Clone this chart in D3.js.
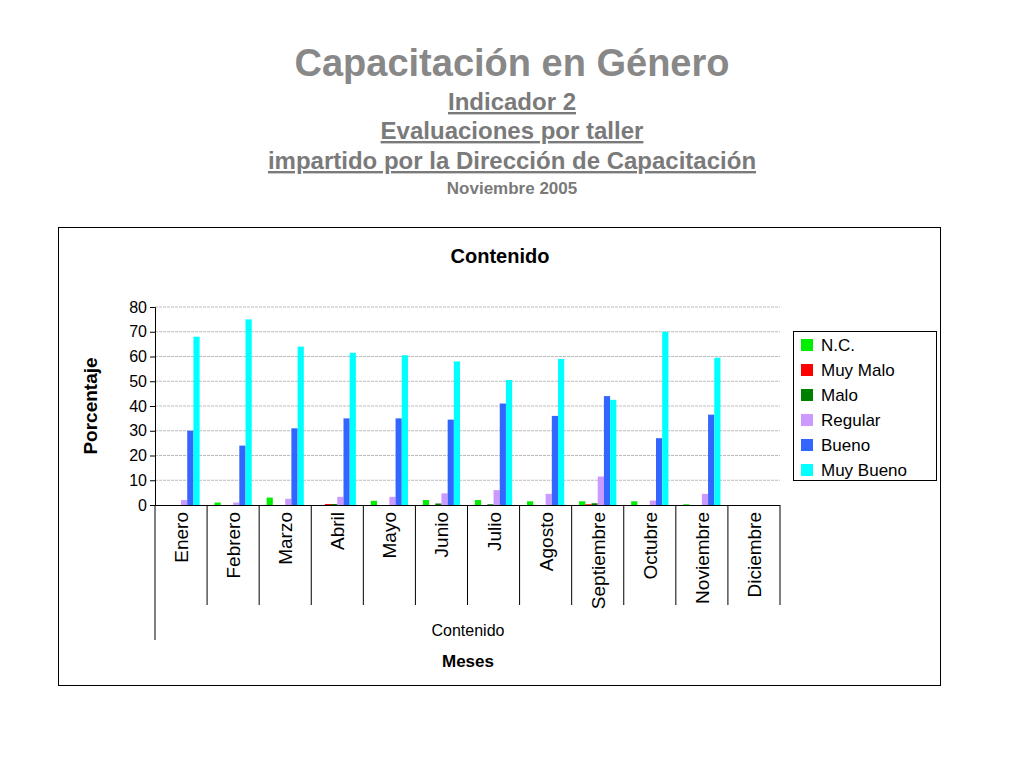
<!DOCTYPE html><html><head><meta charset="utf-8"><script src="https://cdn.jsdelivr.net/npm/d3@7"></script>
<style>body{margin:0;background:#fff}text{font-family:"Liberation Sans",Arial,sans-serif}</style></head><body>
<svg width="1024" height="768"></svg>
<script>
const months=["Enero","Febrero","Marzo","Abril","Mayo","Junio","Julio","Agosto","Septiembre","Octubre","Noviembre","Diciembre"];
const seriesNames=["N.C.","Muy Malo","Malo","Regular","Bueno","Muy Bueno"];
const colors=["#00ee00","#ff0000","#008000","#cc99ff","#3366ff","#00ffff"];
const nc=[0,1,3,0,1.7,2,2,1.5,1.5,1.5,0.3,0];
const muyMalo=[0,0,0,0.4,0,0,0,0,0.3,0,0,0];
const malo=[0,0,0,0.4,0,0.6,0.3,0,0.7,0,0,0];
const regular=[2,1,2.5,3.3,3.3,4.7,6,4.5,11.5,1.8,4.5,0];
const bueno=[30,24,31,35,35,34.5,41,36,44,27,36.5,0];
const muyBueno=[68,75,64,61.5,60.5,58,50.5,59,42.5,70,59.5,0];
const yTicks=[0,10,20,30,40,50,60,70,80];
const data=[nc,muyMalo,malo,regular,bueno,muyBueno];
const svg=d3.select("svg");
const t=svg.append("g").attr("text-anchor","middle").attr("font-weight","bold");
t.append("text").attr("x",512).attr("y",76).attr("font-size",38).attr("fill","#888").text("Capacitación en Género");
[["Indicador 2",110],["Evaluaciones por taller",139],["impartido por la Dirección de Capacitación",169]].forEach(([s,y])=>{
 t.append("text").attr("x",512).attr("y",y).attr("font-size",24).attr("fill","#7a7a7a").attr("text-decoration","underline").text(s);});
t.append("text").attr("x",512).attr("y",194).attr("font-size",17).attr("fill","#7a7a7a").text("Noviembre 2005");
svg.append("rect").attr("x",58.5).attr("y",227.5).attr("width",882).attr("height",458).attr("fill","#fff").attr("stroke","#000");
svg.append("text").attr("x",500).attr("y",263).attr("text-anchor","middle").attr("font-size",20).attr("font-weight","bold").text("Contenido");
const L=155,R=780;
const x=d3.scaleBand().domain(months).range([L,R]);
const xs=d3.scaleBand().domain(d3.range(6)).range([0,x.bandwidth()]).paddingInner(0).paddingOuter(1.2);
const y=d3.scaleLinear().domain([0,80]).range([505,307]);
svg.append("g").selectAll("line").data(yTicks.slice(1)).join("line").attr("x1",L).attr("x2",R).attr("y1",d=>y(d)).attr("y2",d=>y(d)).attr("stroke","#bbb").attr("stroke-dasharray","3,1");
const ya=svg.append("g").attr("transform",`translate(${L},0)`).call(d3.axisLeft(y).tickValues(yTicks).tickSize(5));
ya.selectAll("text").attr("font-size",16).attr("fill","#000");ya.select(".domain").attr("stroke","#000");
data.forEach((arr,si)=>{svg.append("g").selectAll("rect").data(arr).join("rect")
 .attr("x",(d,i)=>x(months[i])+xs(si)).attr("width",xs.bandwidth()).attr("y",d=>y(d)).attr("height",d=>y(0)-y(d)).attr("fill",colors[si]);});
svg.append("line").attr("x1",L).attr("x2",R).attr("y1",505.5).attr("y2",505.5).attr("stroke","#000");
const sep=[L,...months.map(m=>x(m)+x.bandwidth())];
svg.append("g").selectAll("line").data(sep).join("line").attr("x1",d=>d).attr("x2",d=>d).attr("y1",505).attr("y2",(d,i)=>i==0?640:605).attr("stroke","#000");
svg.append("g").selectAll("text").data(months).join("text").attr("font-size",19).attr("font-family","'Liberation Sans Narrow','Liberation Sans',sans-serif")
 .attr("transform",d=>`translate(${x(d)+x.bandwidth()/2+7},512) rotate(-90)`).attr("text-anchor","end").text(d=>d);
svg.append("text").attr("x",468).attr("y",636).attr("text-anchor","middle").attr("font-size",16).text("Contenido");
svg.append("text").attr("x",468).attr("y",667).attr("text-anchor","middle").attr("font-size",17).attr("font-weight","bold").text("Meses");
svg.append("text").attr("transform","translate(97,406) rotate(-90)").attr("text-anchor","middle").attr("font-size",19).attr("font-weight","bold").attr("font-family","'Liberation Sans Narrow','Liberation Sans',sans-serif").text("Porcentaje");
const lg=svg.append("g");
lg.append("rect").attr("x",793.5).attr("y",331.5).attr("width",143).attr("height",149).attr("fill","#fff").attr("stroke","#000");
seriesNames.forEach((s,i)=>{lg.append("rect").attr("x",801).attr("y",339+i*25).attr("width",12).attr("height",12).attr("fill",colors[i]);
 lg.append("text").attr("x",821).attr("y",351+i*25).attr("font-size",17).text(s);});
</script></body></html>
